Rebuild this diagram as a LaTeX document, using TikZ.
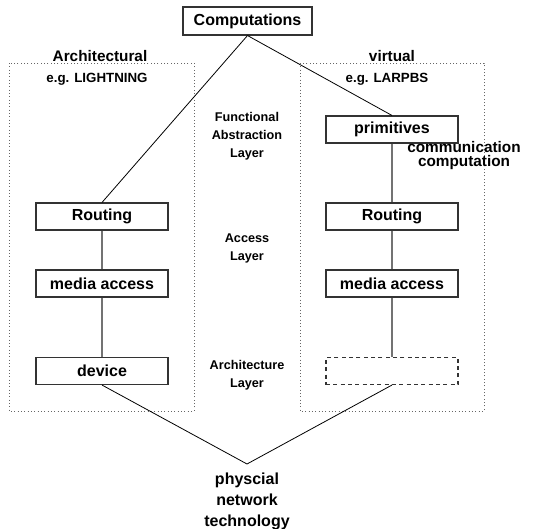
\documentclass[tikz,border=0pt]{standalone}
\usepackage{fontspec}
\setmainfont{Liberation Sans}
\begin{document}
\begin{tikzpicture}[x=0.75pt,y=-0.75pt]
    \tikzset{
        layerbox/.style={draw=black!80,line width=0.8pt,minimum width=99pt,minimum height=20.25pt,inner sep=0pt,font=\fontsize{12}{14}\selectfont\bfseries},
        sidebox/.style={draw=black!60,line width=0.7pt,dash pattern=on 0.7pt off 1.8pt},
        midlabel/.style={align=center,font=\fontsize{9.5}{13.5}\selectfont\bfseries},
        toplabel/.style={font=\fontsize{11.5}{13}\selectfont\bfseries},
        samplelabel/.style={font=\fontsize{10}{12}\selectfont\bfseries},
        stack/.style={draw=black!55,line width=1.1pt},
        link/.style={draw=black,line width=0.6pt}}
    \useasboundingbox (0,0) rectangle (533,529);
    % the two sides
    \draw [sidebox] (9,63) rectangle (194,411);
    \draw [sidebox] (300,63) rectangle (484,411);
    \node [toplabel] (archlbl) at (100,56) {Architectural};
    \node [samplelabel] (eglight) at (97,79) {e.g. LIGHTNING};
    \node [toplabel] (virtlbl) at (392,56) {virtual};
    \node [samplelabel] (eglarp) at (387,79) {e.g. LARPBS};
    % boxes
    \node [layerbox,minimum width=96.75pt,minimum height=21pt] (comp) at (247.5,21) {Computations};
    \node [layerbox] (prim) at (392,129.5) {primitives};
    \node [layerbox] (lrout) at (102,216.5) {Routing};
    \node [layerbox] (rrout) at (392,216.5) {Routing};
    \node [layerbox] (lmedia) at (102,283.5) {media access};
    \node [layerbox] (rmedia) at (392,283.5) {media access};
    \node [layerbox] (ldev) at (102,371) {device};
    \node [layerbox,dash pattern=on 3pt off 2.5pt] (rnone) at (392,371) {};
    % layer names in the middle
    \node [midlabel] (funclayer) at (247,136.5) {Functional\\Abstraction\\Layer};
    \node [midlabel] (acclayer) at (247,248) {Access\\Layer};
    \node [midlabel] (archlayer) at (247,375.5) {Architecture\\Layer};
    % connectors
    \draw [stack] (prim) -- (rrout) -- (rmedia) -- (rnone);
    \draw [stack] (lrout) -- (lmedia) -- (ldev);
    \node [align=center,font=\fontsize{11.5}{10.5}\selectfont\bfseries] (commcomp) at (464,156) {communication\\computation};
    \draw [link] (comp.south) -- (lrout.north);
    \draw [link] (comp.south) -- (prim.north);
    \coordinate (vtip) at (247,464);
    \draw [link] (ldev.south) -- (vtip) -- (rnone.south);
    \node [align=center,font=\fontsize{12}{15.75}\selectfont\bfseries] (physnet) at (247,501) {physcial\\network\\technology};
\end{tikzpicture}
\end{document}
